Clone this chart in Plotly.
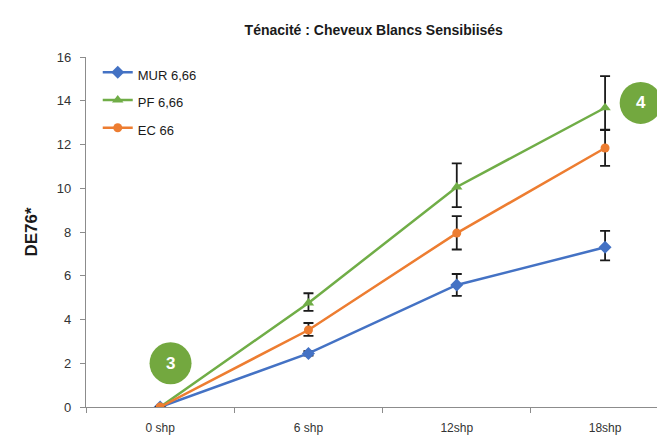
import plotly.graph_objects as go

categories = ["0 shp", "6 shp", "12shp", "18shp"]
mur = [0, 2.45, 5.58, 7.3]
mur_err_plus = [0, 0.1, 0.5, 0.75]
mur_err_minus = [0, 0.1, 0.5, 0.6]
pf = [0, 4.75, 10.06, 13.68]
pf_err_plus = [0, 0.45, 1.08, 1.45]
pf_err_minus = [0, 0.36, 0.92, 1.0]
ec = [0, 3.52, 7.95, 11.84]
ec_err_plus = [0, 0.32, 0.78, 0.82]
ec_err_minus = [0, 0.27, 0.75, 0.82]

callouts = [("3", 0.07, 2.0), ("4", 3.24, 13.9)]

BLUE = "#4472C4"
GREEN = "#70AD47"
ORANGE = "#ED7D31"
FONT = "Liberation Sans Narrow, Liberation Sans, Arial"

fig = go.Figure()

def add(name, y, ep, em, color, symbol, size):
    fig.add_trace(go.Scatter(
        x=categories, y=y, name="<span style='font-size:13px'>%s</span>" % name,
        mode="lines+markers",
        line=dict(color=color, width=2.5),
        marker=dict(symbol=symbol, size=size, color=color),
        error_y=dict(type="data", symmetric=False, array=ep, arrayminus=em,
                     color="#1a1a1a", thickness=1.8, width=5),
    ))

add("MUR 6,66", mur, mur_err_plus, mur_err_minus, BLUE, "diamond", 10)
add("PF 6,66", pf, pf_err_plus, pf_err_minus, GREEN, "triangle-up", 10)
add("EC 66", ec, ec_err_plus, ec_err_minus, ORANGE, "circle", 9)

for label, cx, cy in callouts:
    fig.add_shape(type="circle", xref="x", yref="y", xsizemode="pixel", ysizemode="pixel",
                  xanchor=cx, yanchor=cy, x0=-21, x1=21, y0=-21, y1=21,
                  fillcolor="#73A83F", line=dict(color="#73A83F", width=0), layer="above")
    fig.add_annotation(x=cx, y=cy, text="<b>%s</b>" % label, showarrow=False,
                       font=dict(color="white", size=17, family=FONT))

fig.update_layout(
    width=665, height=439,
    margin=dict(l=78, r=0, t=49, b=40),
    paper_bgcolor="white", plot_bgcolor="white",
    font=dict(family=FONT, color="#333333", size=12),
    title=dict(text="<b>Ténacité : Cheveux Blancs Sensibiisés</b>", x=0.55, xanchor="center",
               y=0.95, yanchor="middle", font=dict(size=14, color="#1a1a1a", family=FONT)),
    showlegend=True,
    legend=dict(x=0.02, y=1.01, xanchor="left", yanchor="top", bgcolor="rgba(0,0,0,0)",
                font=dict(size=19, color="#1a1a1a", family=FONT), tracegroupgap=0,
                itemwidth=30),
)
fig.update_xaxes(type="category", range=[-0.5, 3.458], showline=True, linecolor="#8c8c8c",
                 linewidth=1.3, ticks="outside", tickson="boundaries", ticklen=5,
                 tickcolor="#8c8c8c", showgrid=False, zeroline=False, ticklabelstandoff=9,
                 tickfont=dict(size=12, color="#333333"))
fig.update_yaxes(range=[0, 16], dtick=2, showline=True, linecolor="#8c8c8c", linewidth=1.3,
                 ticks="outside", ticklen=5, tickcolor="#8c8c8c", showgrid=False, zeroline=False,
                 ticklabelstandoff=6,
                 tickfont=dict(size=13, color="#333333"),
                 title=dict(text="<b>DE76*</b>", font=dict(size=17, color="#1a1a1a"), standoff=14))

fig.write_html("out.html")
